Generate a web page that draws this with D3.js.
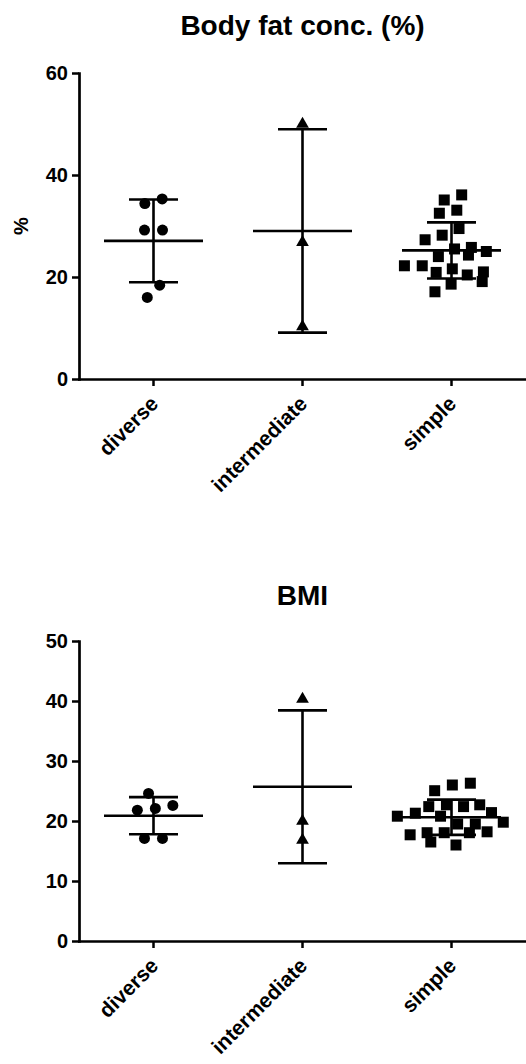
<!DOCTYPE html>
<html>
<head>
<meta charset="utf-8">
<script src="https://cdn.jsdelivr.net/npm/d3@7/dist/d3.min.js"></script>
<style>
  html, body { margin: 0; padding: 0; background: #fff; }
  svg { display: block; font-family: "Liberation Sans", Arial, Helvetica, sans-serif; }
</style>
</head>
<body>
<svg id="chart" width="526" height="1064"></svg>
<script>
// ---- data ----
const categories = ["diverse", "intermediate", "simple"];

const fatTitle = "Body fat conc. (%)";
const fatYLabel = "%";
const fatTicks = [0, 20, 40, 60];
const fatDiverse = [35.3, 34.4, 29.2, 29.2, 18.4, 16.0];
const fatIntermediate = [50.0, 26.8, 10.3];
const fatSimple = [36.1, 35.1, 33.1, 32.5, 29.5, 28.2, 27.3, 25.8, 25.0, 25.5, 24.0,
                   24.3, 22.2, 22.2, 21.0, 20.9, 21.6, 20.4, 19.1, 18.6, 17.1];

const bmiTitle = "BMI";
const bmiTicks = [0, 10, 20, 30, 40, 50];
const bmiDiverse = [24.6, 22.1, 21.8, 22.6, 17.1, 17.1];
const bmiIntermediate = [40.3, 20.0, 16.8];
const bmiSimple = [26.0, 26.3, 25.05, 22.4, 21.4, 22.7, 22.7, 22.4, 21.3, 20.8, 20.8,
                   19.8, 18.2, 18.05, 17.7, 18.05, 18.05, 16.0, 16.5, 19.5, 19.5];

// ---- layout ----
const svg = d3.select("#chart");
const W = 526;
const font = "'Liberation Sans', Arial, Helvetica, sans-serif";
const markers = [d3.symbolCircle, d3.symbolTriangle, d3.symbolSquare];
const markerSize = [95, 70, 121];
const collideR = [9, 9, 9];

const panels = [
  { title: fatTitle, ylabel: fatYLabel, ticks: fatTicks, groups: [fatDiverse, fatIntermediate, fatSimple],
    yTop: 73, yBottom: 379, titleY: 35 },
  { title: bmiTitle, ylabel: null, ticks: bmiTicks, groups: [bmiDiverse, bmiIntermediate, bmiSimple],
    yTop: 641, yBottom: 941, titleY: 605 }
];

const axisX = 79;
const x = d3.scaleBand().domain(categories).range([axisX, W]).padding(0);

function swarm(values, cx, y, r) {
  const order = values.map((v, i) => i).sort((a, b) => values[a] - values[b]);
  const rank = new Array(values.length);
  order.forEach((idx, k) => { rank[idx] = k; });
  const n = values.length;
  const nodes = values.map((v, i) => ({ v, ty: y(v), y: y(v), x: cx + (rank[i] - (n - 1) / 2) * 0.6 }));
  const sim = d3.forceSimulation(nodes)
    .force("x", d3.forceX(cx).strength(0.06))
    .force("y", d3.forceY(d => d.ty).strength(1))
    .force("c", d3.forceCollide(r).iterations(3))
    .stop();
  for (let i = 0; i < 400; i++) sim.tick();
  return nodes;
}

panels.forEach(p => {
  const y = d3.scaleLinear().domain([0, d3.max(p.ticks)]).range([p.yBottom, p.yTop]);
  const g = svg.append("g");

  // title
  g.append("text")
    .attr("x", (axisX + W) / 2).attr("y", p.titleY)
    .attr("text-anchor", "middle")
    .style("font-family", font).style("font-weight", "bold").style("font-size", "28px")
    .text(p.title);

  // y label
  if (p.ylabel) {
    g.append("text")
      .attr("transform", `translate(28,${(p.yTop + p.yBottom) / 2}) rotate(-90)`)
      .attr("text-anchor", "middle")
      .style("font-family", font).style("font-weight", "bold").style("font-size", "20px")
      .text(p.ylabel);
  }

  // y axis
  const ya = g.append("g").attr("transform", `translate(${axisX},0)`)
    .call(d3.axisLeft(y).tickValues(p.ticks).tickSize(7).tickSizeOuter(0).tickPadding(4).tickFormat(d3.format("d")));
  ya.select(".domain").attr("stroke-width", 2.7).attr("stroke-linecap", "square");
  ya.selectAll(".tick line").attr("stroke-width", 2.5);
  ya.selectAll(".tick text").style("font-family", font).style("font-weight", "bold").style("font-size", "20px")
    .attr("fill", "#000");

  // x axis
  const xa = g.append("g").attr("transform", `translate(0,${p.yBottom})`)
    .call(d3.axisBottom(x).tickSize(7).tickSizeOuter(0));
  xa.select(".domain").attr("stroke-width", 2.7).attr("stroke-linecap", "square");
  xa.selectAll(".tick line").attr("stroke-width", 2.5);
  xa.selectAll(".tick text")
    .attr("x", 0).attr("y", 0).attr("dy", 0)
    .attr("text-anchor", "end")
    .attr("transform", "translate(6,26) rotate(-45)")
    .style("font-family", font).style("font-weight", "bold").style("font-size", "21px")
    .attr("fill", "#000");

  // groups
  p.groups.forEach((vals, gi) => {
    const cx = x(categories[gi]) + x.bandwidth() / 2;
    const m = d3.mean(vals), sd = d3.deviation(vals);
    const eg = g.append("g").attr("stroke", "#000").attr("stroke-width", 2.6).attr("fill", "none");
    eg.append("line").attr("x1", cx - 49.5).attr("x2", cx + 49.5).attr("y1", y(m)).attr("y2", y(m));
    eg.append("line").attr("x1", cx).attr("x2", cx).attr("y1", y(m + sd)).attr("y2", y(m - sd));
    eg.append("line").attr("x1", cx - 24.5).attr("x2", cx + 24.5).attr("y1", y(m + sd)).attr("y2", y(m + sd));
    eg.append("line").attr("x1", cx - 24.5).attr("x2", cx + 24.5).attr("y1", y(m - sd)).attr("y2", y(m - sd));

    const nodes = swarm(vals, cx, y, collideR[gi]);
    g.append("g").selectAll("path").data(nodes).join("path")
      .attr("d", d3.symbol().type(markers[gi]).size(markerSize[gi]))
      .attr("transform", d => `translate(${d.x},${y(d.v)})`)
      .attr("fill", "#000");
  });
});
</script>
</body>
</html>
